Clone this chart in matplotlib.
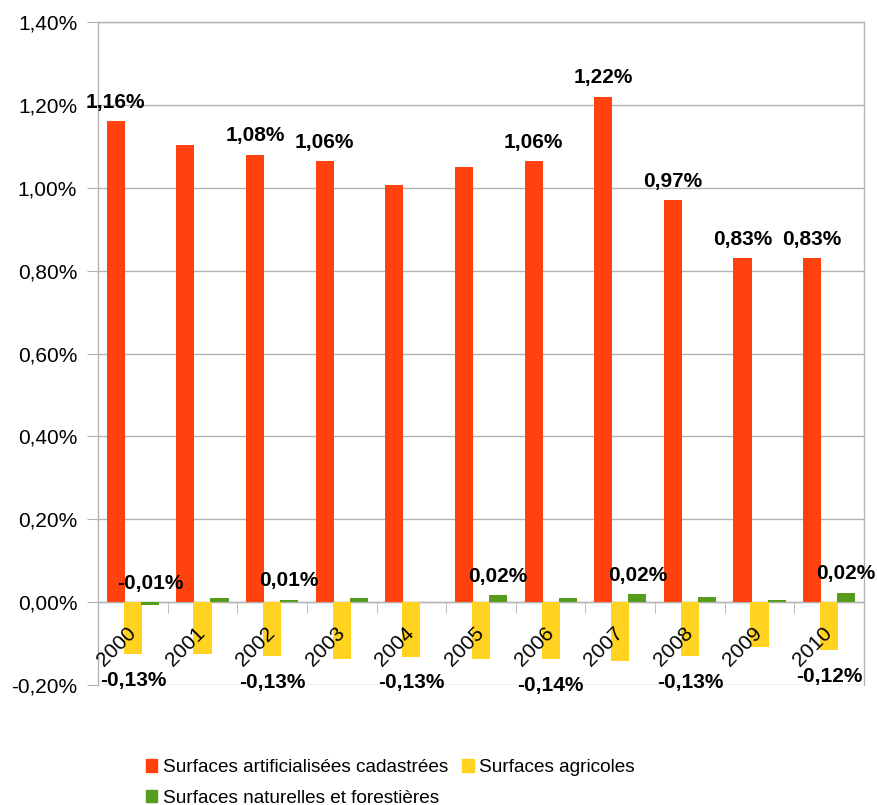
import matplotlib
matplotlib.use("Agg")
import matplotlib.pyplot as plt
from matplotlib.ticker import FuncFormatter, FixedLocator
from matplotlib.patches import Patch

years = ["2000", "2001", "2002", "2003", "2004", "2005", "2006", "2007", "2008", "2009", "2010"]
artificial = [1.16, 1.104, 1.08, 1.064, 1.007, 1.05, 1.064, 1.22, 0.97, 0.83, 0.83]
agricole = [-0.126, -0.125, -0.13, -0.137, -0.132, -0.137, -0.138, -0.142, -0.13, -0.108, -0.116]
naturelle = [-0.006, 0.01, 0.006, 0.01, 0.001, 0.016, 0.01, 0.02, 0.013, 0.005, 0.023]

# which data labels are displayed (as in the reference)
art_lab = [True, False, True, True, False, False, True, True, True, True, True]
agr_lab = [True, False, True, False, True, False, True, False, True, False, True]
nat_lab = [True, False, True, False, False, True, False, True, False, False, True]

names = ["Surfaces artificialisées cadastrées", "Surfaces agricoles", "Surfaces naturelles et forestières"]
colors = ["#FF420E", "#FFD320", "#579D1C"]

plt.rcParams['font.family'] = ['Liberation Sans', 'DejaVu Sans']
FS = 15

fig = plt.figure(figsize=(8.77, 8.05), dpi=100)
ax = fig.add_axes([98/877, 1-685/805, (864-98)/877, (685-22)/805])

yticks = [-0.2 + 0.2 * k for k in range(9)]
for yv in yticks:
    ax.axhline(yv, color="#b3b3b3", linewidth=1, zorder=0.5)

x = list(range(len(years)))
w = 0.26
off = 0.245
ax.bar([i - off for i in x], artificial, w, color=colors[0], zorder=1)
ax.bar(x, agricole, w, color=colors[1], zorder=1)
ax.bar([i + off for i in x], naturelle, w, color=colors[2], zorder=1)

def fmt(v):
    return ("%.2f%%" % v).replace(".", ",")

for i in x:
    if art_lab[i]:
        ax.annotate(fmt(artificial[i]), (i - off, artificial[i]), xytext=(0, 9.5),
                    textcoords="offset points", ha="center", va="baseline",
                    fontsize=FS, fontweight="bold", zorder=5)
    if agr_lab[i]:
        ax.annotate(fmt(agricole[i]), (i, agricole[i]), xytext=(0, -12),
                    textcoords="offset points", ha="center", va="top",
                    fontsize=FS, fontweight="bold", zorder=5)
    if nat_lab[i]:
        ax.annotate(fmt(naturelle[i]), (i + off, max(naturelle[i], 0)), xytext=(0, 9.5),
                    textcoords="offset points", ha="center", va="baseline",
                    fontsize=FS, fontweight="bold", zorder=5)

ax.set_xlim(-0.5, len(years) - 0.5)
ax.set_ylim(-0.2, 1.4)
ax.set_yticks(yticks)
ax.yaxis.set_major_formatter(FuncFormatter(lambda v, p: fmt(v + 0.0)))
ax.set_axisbelow(False)

for s in ["left", "right", "top", "bottom"]:
    ax.spines[s].set_color("#b3b3b3")
    ax.spines[s].set_linewidth(1)
    ax.spines[s].set_zorder(0.6)
ax.spines["bottom"].set_position(("data", 0))
ax.xaxis.set_zorder(4)

ax.set_xticks(x)
ax.set_xticklabels(years, rotation=45, ha="right", va="center", rotation_mode="anchor", fontsize=FS)
ax.xaxis.set_minor_locator(FixedLocator([i - 0.5 for i in range(len(years) + 1)]))
ax.tick_params(axis="x", which="major", length=0, pad=20)
ax.tick_params(axis="x", which="minor", length=8, color="#b3b3b3", direction="out")
ax.tick_params(axis="y", length=8, color="#b3b3b3", pad=7, labelsize=FS)

handles = [Patch(color=colors[0], label=names[0]),
           Patch(color=colors[2], label=names[2]),
           Patch(color=colors[1], label=names[1])]
fig.legend(handles=handles, loc="center", bbox_to_anchor=(0.445, 1 - 783/805), ncol=2,
           frameon=False, fontsize=13.7, handlelength=0.62, handleheight=0.62,
           handletextpad=0.3, columnspacing=0.7, labelspacing=0.7, borderpad=0)

fig.savefig("out.png", dpi=100)
